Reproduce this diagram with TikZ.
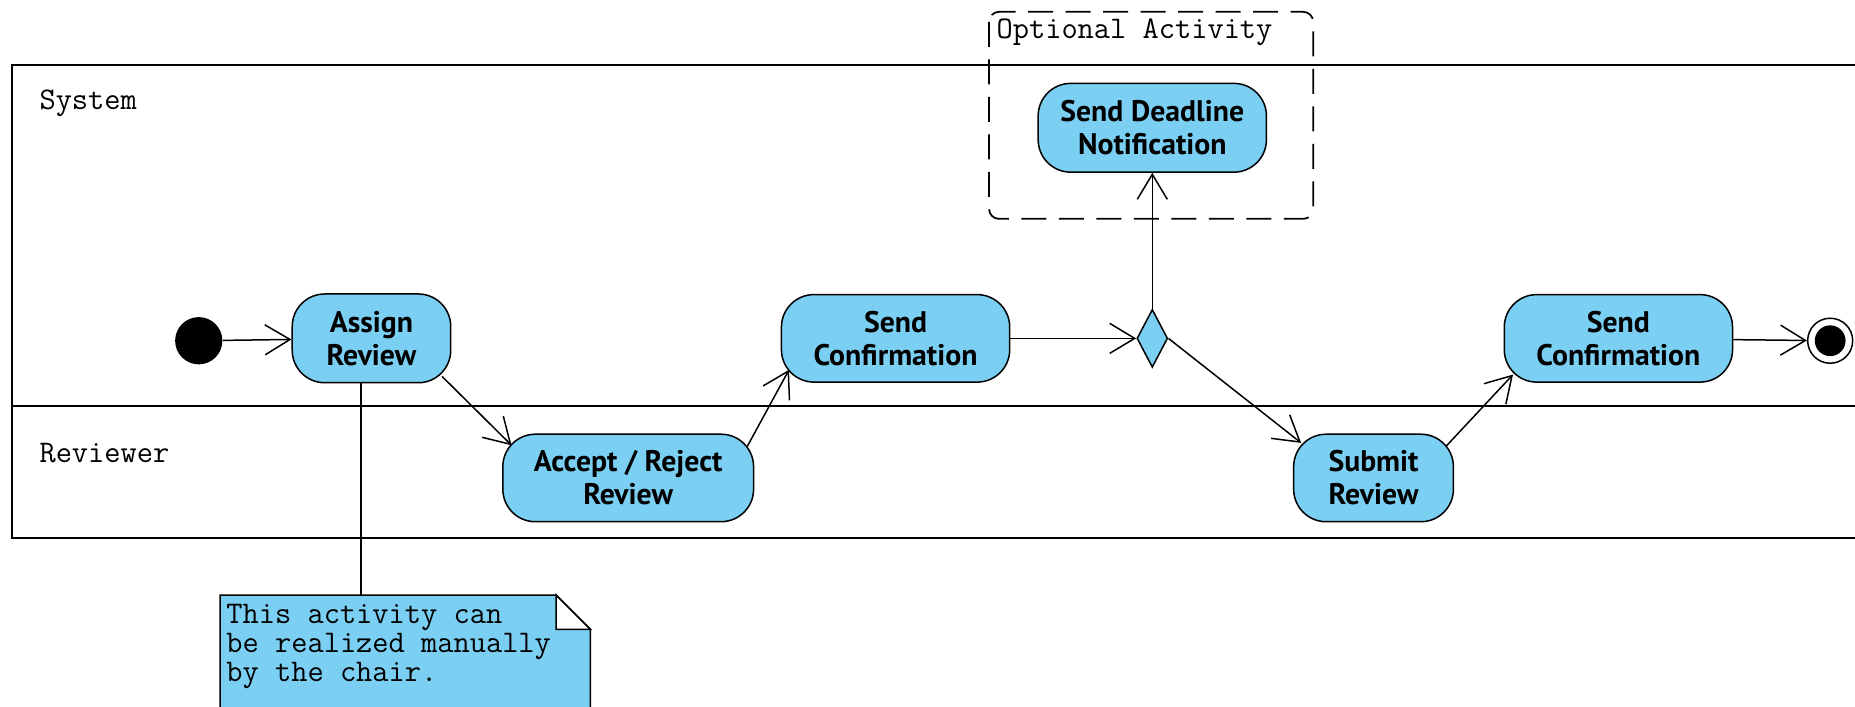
\documentclass[tikz,border=0pt]{standalone}
\usepackage{fontspec}
\setmainfont{PT Sans}
\usetikzlibrary{shapes.geometric,arrows.meta}
\definecolor{actblue}{RGB}{122,207,242}
\begin{document}
\begin{tikzpicture}[x=0.4732pt,y=-0.4732pt,
  act/.style={draw,fill=actblue,rounded corners=13pt,align=center,
    font=\fontsize{11.9}{13.2}\selectfont\bfseries,inner sep=0pt,line width=0.6pt},
  flow/.style={-{Straight Barb[length=10pt,width=12pt]},line width=0.6pt},
  lbl/.style={font=\fontsize{12.6}{11.6}\selectfont\ttfamily,inner sep=0pt,anchor=west},
  lane/.style={line width=0.8pt},
]
\useasboundingbox (0,0) rectangle (1568,597);
% swimlanes
\draw[lane] (1600,55) -- (10,55) -- (10,455) -- (1600,455);
\draw[lane] (10,343) -- (1600,343);
\node[lbl] (syslbl) at (33,87) {System};
\node[lbl] (revlbl) at (33,383) {Reviewer};
% optional region
\draw[dash pattern=on 10pt off 5pt,rounded corners=4pt,line width=0.7pt] (836,10) rectangle (1110,185);
\node[lbl] (optlbl) at (842,27) {Optional Activity};
% nodes
\node[circle,fill=black,inner sep=0pt,minimum size=18.9pt] (init) at (168,288) {};
\node[act,minimum width=63.4pt,minimum height=35.5pt] (assign) at (314,286) {Assign\\Review};
\node[act,minimum width=100.3pt,minimum height=35pt] (accept) at (531,404) {Accept / Reject\\Review};
\node[act,minimum width=91.3pt,minimum height=35pt] (conf1) at (757,286) {Send\\Confirmation};
\node[diamond,draw,fill=actblue,inner sep=0pt,minimum width=12.3pt,minimum height=23.2pt,line width=0.6pt] (dec) at (974,286) {};
\node[act,minimum width=91.3pt,minimum height=35.5pt] (deadline) at (974,108) {Send Deadline\\Notification};
\node[act,minimum width=63.9pt,minimum height=35pt] (submit) at (1161,404) {Submit\\Review};
\node[act,minimum width=91.3pt,minimum height=35pt] (conf2) at (1368,286) {Send\\Confirmation};
\node[circle,draw,fill=white,inner sep=0pt,minimum size=18pt,line width=0.6pt] (final) at (1547,288) {};
\node[circle,fill=black,inner sep=0pt,minimum size=12.3pt] (finalin) at (1547,288) {};
% flows
\draw[flow] (init) -- (assign);
\draw[flow] ([shift={(-8,-6)}]assign.south east) -- ([shift={(8,10)}]accept.north west);
\draw[flow] ([shift={(-6,11)}]accept.north east) -- ([shift={(7,-11)}]conf1.south west);
\draw[flow] (conf1) -- (dec);
\draw[flow] (dec.north) -- (deadline.south);
\draw[flow] (dec.east) -- ([shift={(7,8)}]submit.north west);
\draw[flow] ([shift={(-7,11)}]submit.north east) -- ([shift={(8,-7)}]conf2.south west);
\draw[flow] (conf2) -- (final);
% note
\draw[fill=actblue,line width=0.6pt] (186,503) -- (470,503) -- (499,532) -- (499,620) -- (186,620) -- cycle;
\draw[fill=white,line width=0.6pt] (470,503) -- (470,532) -- (499,532) -- cycle;
\node[lbl,anchor=north west,align=left] (note) at (191,510) {This activity can\\be realized manually\\by the chair.};
\coordinate (notetop) at (305,503);
\draw[line width=0.6pt] (assign.south -| notetop) -- (notetop);
\end{tikzpicture}
\end{document}
